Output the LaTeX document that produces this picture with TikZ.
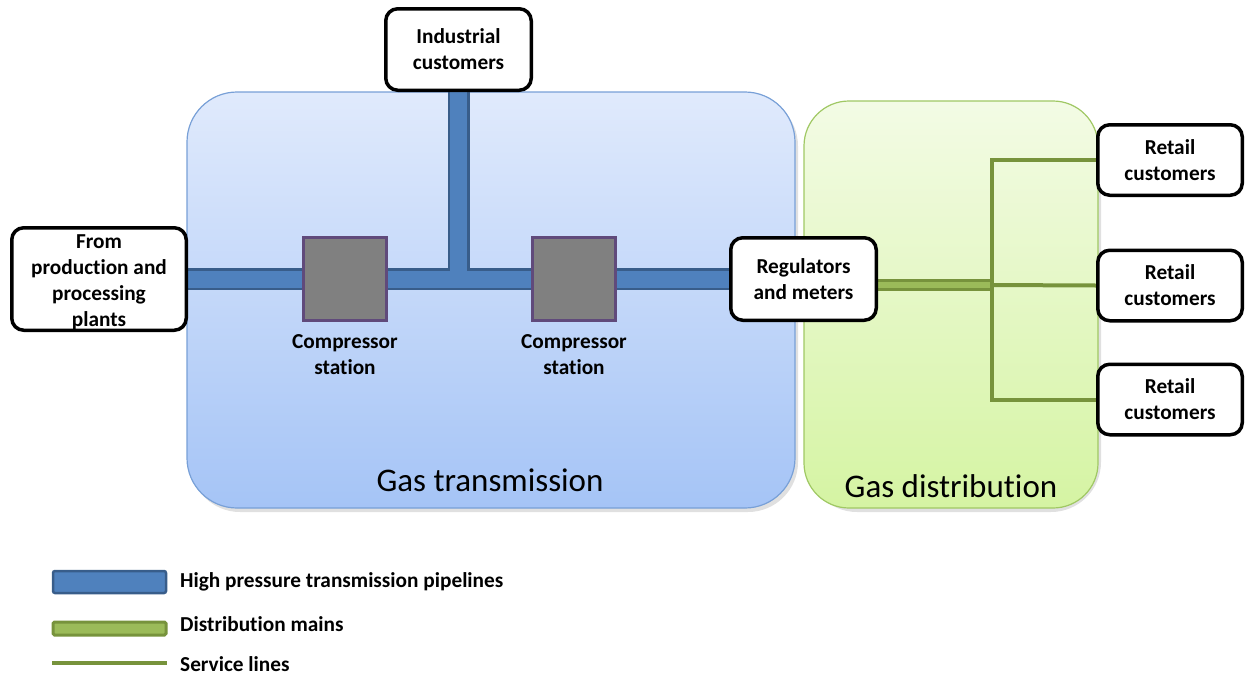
\documentclass[tikz,border=0pt]{standalone}
\usepackage{fontspec}
\setmainfont{Carlito}[Ligatures=NoCommon]
\usetikzlibrary{calc}

\definecolor{pipeblue}{RGB}{79,129,189}
\definecolor{pipeedge}{RGB}{56,93,138}
\definecolor{mainsgreen}{RGB}{155,187,89}
\definecolor{mainsedge}{RGB}{119,147,60}
\definecolor{compgray}{RGB}{128,128,128}
\definecolor{compedge}{RGB}{96,74,123}
\definecolor{transtop}{RGB}{224,234,252}
\definecolor{transbot}{RGB}{165,196,246}
\definecolor{transedge}{RGB}{120,160,215}
\definecolor{disttop}{RGB}{243,251,229}
\definecolor{distbot}{RGB}{213,244,163}
\definecolor{distedge}{RGB}{160,200,100}

\pgfdeclarelayer{areas}
\pgfdeclarelayer{pipes}
\pgfsetlayers{areas,pipes,main}

\begin{document}
\begin{tikzpicture}[x=1pt,y=-1pt,
  lbl/.style={font=\fontsize{21.3}{26}\selectfont\bfseries, align=center},
  endbox/.style={lbl, draw=black, line width=3.5pt, fill=white, rounded corners=12pt, inner sep=0pt},
  compbox/.style={draw=compedge, fill=compgray, line width=3pt, minimum width=83pt, minimum height=83pt, inner sep=0pt},
  area/.style={rounded corners=50pt, line width=1.2pt},
  areashadow/.style={fill=black, opacity=0.12, rounded corners=50pt},
  areatitle/.style={font=\fontsize{33}{38}\selectfont},
  pipe/.style={draw=pipeedge, line width=2.5pt, double=pipeblue, double distance=17pt},
  mains/.style={draw=mainsedge, line width=3pt, double=mainsgreen, double distance=6pt},
  service/.style={draw=mainsedge, line width=4pt, line join=miter},
  legtext/.style={lbl, anchor=west, align=left, inner sep=0pt},
]
\useasboundingbox (0,0) rectangle (1247,675);

% regions
\begin{pgfonlayer}{areas}
  \fill[areashadow] (190,96) rectangle (798,512);
  \shade[area, top color=transtop, bottom color=transbot, draw=transedge] (187,92) rectangle (795,508);
  \fill[areashadow] (807,105) rectangle (1101,512);
  \shade[area, rounded corners=45pt, top color=disttop, bottom color=distbot, draw=distedge] (804,101) rectangle (1098,508);
\end{pgfonlayer}
\node[areatitle] (transtitle) at (490,480) {Gas transmission};
\node[areatitle] (disttitle) at (951,486) {Gas distribution};

% end points
\node[endbox, minimum width=174.5pt, minimum height=102.5pt] (source) at (99,279) {\rule{0pt}{20pt}From\\production and\\processing\\plants};
\node[endbox, minimum width=145.5pt, minimum height=81.5pt] (industrial) at (458.5,49.5) {Industrial\\customers};
\node[endbox, minimum width=145.5pt, minimum height=82.5pt] (regulators) at (803.5,279) {Regulators\\and meters};
\node[endbox, minimum width=144.5pt, minimum height=70.5pt] (retail1) at (1170,160) {Retail\\customers};
\node[endbox, minimum width=144.5pt, minimum height=70.5pt] (retail2) at (1170,285.5) {Retail\\customers};
\node[endbox, minimum width=144.5pt, minimum height=70.5pt] (retail3) at (1170,399.5) {Retail\\customers};

% compressor stations
\node[compbox] (comp1) at (345,279) {};
\node[compbox] (comp2) at (574,279) {};
\node[lbl] (comp1lbl) at (345,355) {Compressor\\station};
\node[lbl] (comp2lbl) at (574,355) {Compressor\\station};

% pipelines
\begin{pgfonlayer}{pipes}
  \draw[pipe] (source.east) -- (comp1.west);
  \draw[pipe] (comp1.east) -- (comp2.west);
  \draw[pipe] (comp2.east) -- (regulators.west);
  \coordinate (tee) at ($(industrial.south |- 0,270.5)$);
  \draw[pipe] (industrial.south) -- (tee);
  \coordinate (split) at (992,285);
  \coordinate (busTop) at (split |- retail1.west);
  \coordinate (busBot) at (split |- retail3.west);
  \draw[mains] (regulators.east |- split) -- (split);
  \draw[service] (retail1.west) -- (busTop) -- (busBot) -- (retail3.west);
  \draw[service] (split) -- (retail2.west);
\end{pgfonlayer}

% legend
\draw[pipeedge, fill=pipeblue, line width=2.5pt, rounded corners=2pt] (53,571) rectangle (166,593);
\draw[mainsedge, fill=mainsgreen, line width=3pt, rounded corners=1.5pt] (53,622) rectangle (166,635);
\draw[service] (52,663) -- (167,663);
\node[legtext] (legpipe) at (180,582) {High pressure transmission pipelines};
\node[legtext] (legmains) at (180,624) {Distribution mains};
\node[legtext] (legservice) at (180,664) {Service lines};
\end{tikzpicture}
\end{document}
